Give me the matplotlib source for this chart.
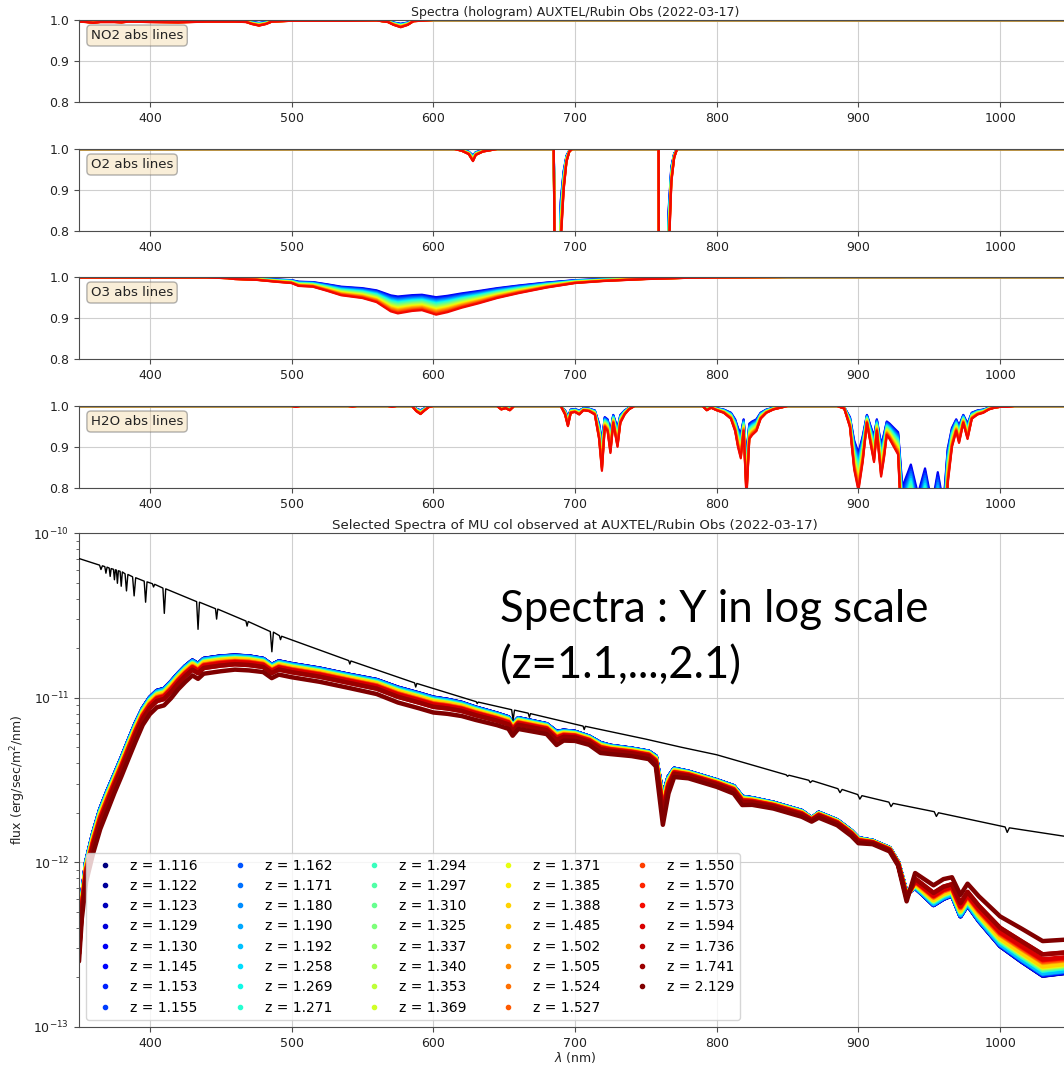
import numpy as np
import matplotlib
matplotlib.use("Agg")
import matplotlib.pyplot as plt
from matplotlib.lines import Line2D

# ---------------- data ----------------
# airmasses of the selected spectra (legend of the bottom panel)
airmass = [1.116, 1.122, 1.123, 1.129, 1.130, 1.145, 1.153, 1.155,
           1.162, 1.171, 1.180, 1.190, 1.192, 1.258, 1.269, 1.271,
           1.294, 1.297, 1.310, 1.325, 1.337, 1.340, 1.353, 1.369,
           1.371, 1.385, 1.388, 1.485, 1.502, 1.505, 1.524, 1.527,
           1.550, 1.570, 1.573, 1.594, 1.736, 1.741, 2.129]

# airmass grid of the absorption panels (z = 1.1, ..., 2.1)
airmass_grid = [1.10, 1.15, 1.20, 1.25, 1.30, 1.35, 1.40, 1.45, 1.50, 1.55, 1.60,
                1.65, 1.70, 1.75, 1.80, 1.85, 1.90, 1.95, 2.00, 2.05, 2.10]

# optical depth per unit airmass
wl_no2 = [350, 355, 360, 365, 375, 380, 385, 400, 420, 440, 460, 468, 472, 477,
          482, 486, 500, 520, 540, 560, 568, 572, 577, 582, 586, 600, 620, 1100]
tau_no2 = [0.0019, 0.0024, 0.0033, 0.0024, 0.0024, 0.0028, 0.0019, 0.0024, 0.0028,
           0.0019, 0.0019, 0.0024, 0.0047, 0.0066, 0.0047, 0.0019, 0.0009, 0.0009,
           0.0009, 0.0005, 0.0024, 0.0057, 0.0085, 0.0057, 0.0014, 0.0, 0.0, 0.0]

wl_o2 = [350, 615, 620, 625, 628, 630, 635, 645, 685, 686.5, 688, 689, 690, 692,
         694, 696, 698, 759, 759.5, 762, 764, 766, 768, 770, 772, 1100]
tau_o2 = [0.0, 0.0, 0.002, 0.006, 0.0143, 0.007, 0.003, 0.0, 0.0, 0.5, 0.5, 0.3,
          0.12, 0.05, 0.015, 0.003, 0.0, 0.0, 1.0, 1.0, 0.6, 0.15, 0.04, 0.01, 0.0, 0.0]

wl_o3 = [350, 440, 455, 460, 475, 490, 500, 505, 515, 525, 535, 550, 560, 570,
         575, 585, 592, 602, 610, 620, 632, 645, 660, 680, 700, 720, 750, 780,
         800, 850, 1100]
tau_o3 = [0.0005, 0.0005, 0.0014, 0.0024, 0.0033, 0.0057, 0.0071, 0.0105, 0.0114,
          0.0163, 0.0217, 0.0251, 0.0301, 0.0417, 0.0443, 0.0412, 0.0402, 0.0459,
          0.0427, 0.0371, 0.0316, 0.0251, 0.0192, 0.0124, 0.0071, 0.0047, 0.0024,
          0.0009, 0.0005, 0.0, 0.0]

wl_h2o = [350, 500, 503, 506, 540, 543, 546, 568, 571, 574, 585, 588, 591, 594,
          597, 600, 645, 648, 651, 654, 657, 690, 693, 695, 697, 700, 703, 706,
          710, 714, 717, 719, 721, 723, 725, 727, 730, 732, 735, 738, 742, 790,
          793, 796, 800, 805, 810, 813, 815, 817, 819, 821, 823, 825, 828, 831,
          835, 840, 845, 850, 885, 890, 894, 897, 900, 903, 906, 909, 911, 913,
          916, 918, 920, 922, 925, 928, 931, 935, 937, 942, 947, 952, 956, 960,
          963, 966, 969, 971, 974, 977, 980, 984, 988, 992, 996, 1000, 1005,
          1010, 1100]
tau_h2o = [0.0, 0.0, 0.001, 0.0, 0.0, 0.0007, 0.0, 0.0, 0.001, 0.0, 0.0, 0.006,
           0.0095, 0.005, 0.001, 0.0, 0.0, 0.004, 0.0025, 0.005, 0.0, 0.0, 0.01,
           0.024, 0.008, 0.007, 0.01, 0.005, 0.006, 0.01, 0.04, 0.082, 0.025,
           0.03, 0.058, 0.02, 0.05, 0.02, 0.01, 0.004, 0.0, 0.0, 0.005, 0.002,
           0.005, 0.008, 0.015, 0.03, 0.05, 0.065, 0.03, 0.12, 0.04, 0.035, 0.03,
           0.015, 0.008, 0.004, 0.002, 0.0, 0.0, 0.003, 0.025, 0.08, 0.11, 0.07,
           0.02, 0.05, 0.07, 0.03, 0.09, 0.065, 0.035, 0.04, 0.05, 0.06, 0.2,
           0.16, 0.14, 0.22, 0.15, 0.25, 0.16, 0.25, 0.1, 0.05, 0.03, 0.045,
           0.02, 0.04, 0.015, 0.01, 0.008, 0.004, 0.002, 0.001, 0.001, 0.0, 0.0]

# reference SED (black line)
wl_sed = [350, 358, 364.5, 365.5, 366.5, 368.2, 369.0, 369.8, 371.3, 372.0, 372.7,
          374.3, 375.0, 375.7, 376.4, 377.1, 377.8, 379.0, 379.8, 380.6, 382.5,
          383.5, 384.5, 387.8, 388.9, 390.0, 396.0, 397.0, 398.0, 401.8, 402.6,
          403.4, 409.2, 410.2, 411.2, 433.0, 434.0, 435.0, 446.3, 447.1, 447.9,
          467.8, 468.6, 469.4, 485.0, 486.1, 487.2, 491.4, 492.2, 493.0, 540.3,
          541.1, 541.9, 586.8, 587.6, 588.4, 630.3, 631.0, 631.7, 655.3, 656.3,
          657.3, 667.0, 667.8, 668.6, 705.7, 706.5, 707.3, 750.0, 775.0, 800.0,
          825.0, 849.0, 850.0, 851.0, 865.0, 866.0, 867.5, 885.5, 887.0, 888.5,
          899.5, 901.0, 902.5, 921.5, 923.0, 924.5, 953.5, 955.0, 956.5, 975.0,
          1003.5, 1005.0, 1006.5, 1050.0]
flux_sed = [7.0e-11, 6.65e-11, 6.38e-11, 6.0e-11, 6.32e-11, 6.25e-11, 5.7e-11,
            6.2e-11, 6.13e-11, 5.45e-11, 6.08e-11, 6.02e-11, 5.2e-11, 5.98e-11,
            5.95e-11, 4.95e-11, 5.9e-11, 5.85e-11, 4.75e-11, 5.8e-11, 5.65e-11,
            4.45e-11, 5.6e-11, 5.42e-11, 4.15e-11, 5.35e-11, 5.1e-11, 3.8e-11,
            5.05e-11, 4.92e-11, 4.7e-11, 4.88e-11, 4.63e-11, 3.25e-11, 4.58e-11,
            3.83e-11, 2.6e-11, 3.8e-11, 3.47e-11, 3.0e-11, 3.45e-11, 2.92e-11,
            2.72e-11, 2.9e-11, 2.52e-11, 1.9e-11, 2.5e-11, 2.38e-11, 2.25e-11,
            2.36e-11, 1.68e-11, 1.6e-11, 1.67e-11, 1.23e-11, 1.16e-11, 1.22e-11,
            9.45e-12, 9.2e-12, 9.4e-12, 8.45e-12, 7.3e-12, 8.4e-12, 8.05e-12,
            7.6e-12, 8.0e-12, 6.72e-12, 6.4e-12, 6.7e-12, 5.6e-12, 5.0e-12,
            4.5e-12, 3.9e-12, 3.4e-12, 3.33e-12, 3.38e-12, 3.15e-12, 3.05e-12,
            3.13e-12, 2.8e-12, 2.65e-12, 2.77e-12, 2.58e-12, 2.42e-12, 2.54e-12,
            2.32e-12, 2.18e-12, 2.28e-12, 2.03e-12, 1.9e-12, 2.0e-12, 1.85e-12,
            1.64e-12, 1.52e-12, 1.62e-12, 1.42e-12]

# observed spectrum at lowest airmass (z=1.116) and log10 change up to z=2.129
wl_obs = [350, 352, 355, 360, 365, 370, 375, 380, 385, 390, 395, 400, 405, 410,
          415, 420, 425, 430, 434, 438, 450, 460, 470, 480, 486, 491, 500, 520,
          540, 560, 575, 590, 600, 610, 620, 630, 645, 653, 656, 660, 680, 687,
          692, 700, 710, 718, 725, 740, 752, 757, 762, 766, 770, 780, 800, 812,
          818, 825, 840, 860, 867, 872, 885, 895, 900, 910, 922, 928, 934, 940,
          945, 953, 960, 966, 972, 977, 985, 1000, 1015, 1030, 1050]
flux_obs = [3.3e-13, 6.0e-13, 1.0e-12, 1.5e-12, 2.1e-12, 2.7e-12, 3.4e-12,
            4.3e-12, 5.5e-12, 7.0e-12, 8.6e-12, 1.0e-11, 1.1e-11, 1.13e-11,
            1.25e-11, 1.4e-11, 1.55e-11, 1.68e-11, 1.6e-11, 1.72e-11, 1.78e-11,
            1.8e-11, 1.78e-11, 1.72e-11, 1.58e-11, 1.66e-11, 1.6e-11, 1.5e-11,
            1.38e-11, 1.28e-11, 1.15e-11, 1.06e-11, 1.0e-11, 9.7e-12, 9.3e-12,
            8.7e-12, 8.0e-12, 7.6e-12, 6.9e-12, 7.5e-12, 6.9e-12, 6.2e-12,
            6.3e-12, 6.2e-12, 5.8e-12, 5.3e-12, 5.1e-12, 4.9e-12, 4.7e-12,
            4.4e-12, 2.5e-12, 3.3e-12, 3.7e-12, 3.55e-12, 3.15e-12, 2.9e-12,
            2.5e-12, 2.45e-12, 2.3e-12, 2.05e-12, 1.85e-12, 2.0e-12, 1.8e-12,
            1.55e-12, 1.4e-12, 1.35e-12, 1.22e-12, 1.0e-12, 6.5e-13, 7.0e-13,
            6.4e-13, 5.5e-13, 6.0e-13, 6.3e-13, 4.7e-13, 5.5e-13, 4.4e-13,
            3.1e-13, 2.5e-13, 2.05e-13, 2.15e-13]
dlog_obs = [-0.12, -0.12, -0.12, -0.12, -0.12, -0.12, -0.11, -0.11, -0.11, -0.11,
            -0.10, -0.10, -0.10, -0.10, -0.10, -0.095, -0.095, -0.09, -0.09,
            -0.09, -0.09, -0.085, -0.085, -0.08, -0.08, -0.08, -0.08, -0.08,
            -0.08, -0.085, -0.09, -0.09, -0.09, -0.085, -0.08, -0.075, -0.07,
            -0.07, -0.07, -0.065, -0.06, -0.08, -0.06, -0.055, -0.05, -0.06,
            -0.05, -0.045, -0.045, -0.06, -0.17, -0.10, -0.05, -0.04, -0.04,
            -0.045, -0.05, -0.04, -0.035, -0.035, -0.02, -0.03, -0.03, -0.03,
            -0.03, -0.02, -0.02, -0.02, -0.05, 0.09, 0.10, 0.12, 0.12, 0.11,
            0.13, 0.13, 0.15, 0.18, 0.20, 0.21, 0.20]

xticks = [400, 500, 600, 700, 800, 900, 1000]
panel_names = ["NO2", "O2", "O3", "H2O"]

# ---------------- figure ----------------
W_PX, H_PX = 1064, 1066
fig = plt.figure(figsize=(W_PX / 100, H_PX / 100), dpi=100)
colors = plt.cm.jet(np.linspace(0, 1, len(airmass)))
colors_grid = plt.cm.jet(np.linspace(0.1, 0.9, len(airmass_grid)))

left = 79 / W_PX
width = 992 / W_PX
spine_col = "0.3"
txt_col = "#222222"
grid_kw = dict(color="#cfcfcf", lw=0.8)

panels = [(wl_no2, tau_no2), (wl_o2, tau_o2), (wl_o3, tau_o3), (wl_h2o, tau_h2o)]
tops = [20, 149, 277, 406]
hpx = 82
for i, (name, (wl, tau)) in enumerate(zip(panel_names, panels)):
    ax = fig.add_axes([left, 1 - (tops[i] + hpx) / H_PX, width, hpx / H_PX])
    tau_a = np.asarray(tau)
    for z, c in zip(airmass_grid, colors_grid):
        ax.plot(wl, np.exp(-tau_a * z), color=c, lw=1.6)
    ax.set_xlim(350, 1050)
    ax.set_ylim(0.8, 1.0)
    ax.set_yticks([0.8, 0.9, 1.0])
    ax.set_xticks(xticks)
    ax.tick_params(labelsize=9, color=spine_col, labelcolor=txt_col)
    ax.grid(True, **grid_kw)
    for s in ax.spines.values():
        s.set_color(spine_col)
    ax.text(0.012, 0.89, f"{name} abs lines", transform=ax.transAxes, fontsize=9.6,
            va="top", ha="left", color=txt_col,
            bbox=dict(boxstyle="round", facecolor="wheat", alpha=0.5, edgecolor="0.4"))
    if i == 0:
        ax.set_title("Spectra (hologram) AUXTEL/Rubin Obs (2022-03-17)", fontsize=9,
                     pad=3, color=txt_col)

# bottom spectra panel
axb = fig.add_axes([left, 1 - 1027 / H_PX, width, 494 / H_PX])
axb.plot(wl_sed, flux_sed, color="k", lw=1.0, zorder=3)
lf0 = np.log10(flux_obs)
dl = np.asarray(dlog_obs)
for z, c in zip(airmass, colors):
    f = 10 ** (lf0 + dl * (z - airmass[0]) / (airmass[-1] - airmass[0]))
    axb.plot(wl_obs, f, color=c, lw=3.2, solid_capstyle="round", zorder=2)
axb.set_yscale("log")
axb.set_xlim(350, 1050)
axb.set_ylim(1e-13, 1e-10)
axb.set_xticks(xticks)
axb.tick_params(labelsize=9, color=spine_col, labelcolor=txt_col)
axb.tick_params(which="minor", color=spine_col)
axb.grid(True, which="major", **grid_kw)
for s in axb.spines.values():
    s.set_color(spine_col)
axb.set_title("Selected Spectra of MU col observed at AUXTEL/Rubin Obs (2022-03-17)",
              fontsize=9.6, pad=3, color=txt_col)
axb.set_xlabel(r"$\lambda$ (nm)", fontsize=9, color=txt_col, labelpad=0)
axb.set_ylabel(r"flux (erg/sec/m$^2$/nm)", fontsize=9, color=txt_col)

handles = [Line2D([], [], ls="", marker=".", color=c, markersize=6) for c in colors]
labels = [f"z = {z:.3f}" for z in airmass]
axb.legend(handles, labels, loc="lower left", ncol=5, fontsize=10,
           labelspacing=0.45, framealpha=0.8)

big_font = ["Lato", "DejaVu Sans"]
fig.text(500 / W_PX, 1 - 622 / H_PX, "Spectra : Y in log scale",
         family=big_font, fontsize=31.5, color="black", ha="left", va="baseline")
fig.text(500 / W_PX, 1 - 678 / H_PX, "(z=1.1,...,2.1)",
         family=big_font, fontsize=31.5, color="black", ha="left", va="baseline")

fig.savefig("out.png", dpi=100)
